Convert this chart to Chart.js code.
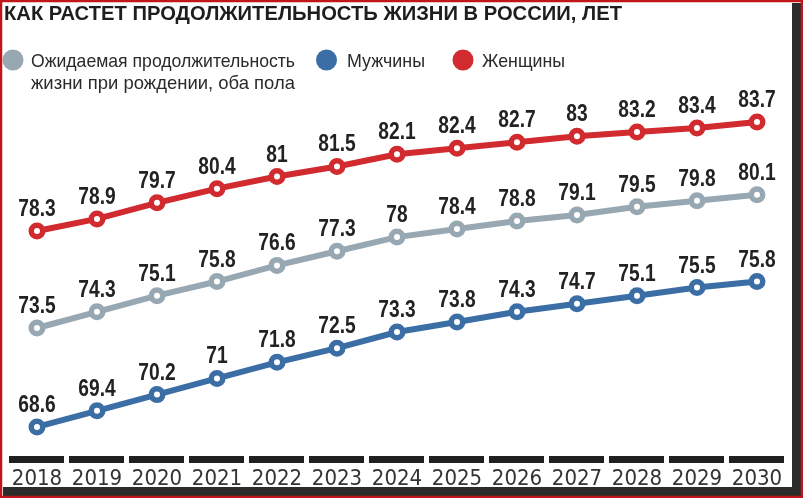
<!DOCTYPE html>
<html>
<head>
<meta charset="utf-8">
<script src="https://cdn.jsdelivr.net/npm/chart.js@4.4.1/dist/chart.umd.min.js"></script>
<style>
  html, body { margin: 0; padding: 0; background: #fff; }
  #wrap { position: relative; width: 803px; height: 498px; }
</style>
</head>
<body>
<div id="wrap"><canvas id="c" width="803" height="498"></canvas></div>
<script>
const years = ['2018','2019','2020','2021','2022','2023','2024','2025','2026','2027','2028','2029','2030'];
const bothSexes = [73.5, 74.3, 75.1, 75.8, 76.6, 77.3, 78, 78.4, 78.8, 79.1, 79.5, 79.8, 80.1];
const men = [68.6, 69.4, 70.2, 71, 71.8, 72.5, 73.3, 73.8, 74.3, 74.7, 75.1, 75.5, 75.8];
const women = [78.3, 78.9, 79.7, 80.4, 81, 81.5, 82.1, 82.4, 82.7, 83, 83.2, 83.4, 83.7];
const titleText = 'КАК РАСТЕТ ПРОДОЛЖИТЕЛЬНОСТЬ ЖИЗНИ В РОССИИ, ЛЕТ';
const legendLabels = [['Ожидаемая продолжительность', 'жизни при рождении, оба пола'], ['Мужчины'], ['Женщины']];

const GRAY = '#98a8b3', BLUE = '#3b6ea5', RED = '#d12a2f';
const COND = '"DejaVu Sans Condensed", "Liberation Sans", sans-serif';
const SANS = '"Liberation Sans", "Noto Sans", sans-serif';

function ds(label, data, color) {
  return {
    label, data,
    borderColor: color, backgroundColor: '#ffffff',
    borderWidth: 6, tension: 0,
    pointRadius: 5.75, pointBorderWidth: 5.5,
    pointBackgroundColor: '#ffffff', pointBorderColor: color,
    pointHoverRadius: 5.75
  };
}

const decor = {
  id: 'decor',
  afterDatasetsDraw(chart) {
    const ctx = chart.ctx;
    ctx.save();
    ctx.font = 'bold 24px ' + SANS;
    ctx.fillStyle = '#222';
    ctx.textAlign = 'center';
    ctx.textBaseline = 'alphabetic';
    chart.data.datasets.forEach((d, di) => {
      const meta = chart.getDatasetMeta(di);
      meta.data.forEach((pt, i) => {
        ctx.save();
        ctx.translate(pt.x, pt.y - 15);
        ctx.scale(0.8, 1);
        ctx.fillText(String(d.data[i]), 0, 0);
        ctx.restore();
      });
    });
    ctx.restore();
  },
  afterDraw(chart) {
    const ctx = chart.ctx;
    const xs = chart.scales.x;
    const area = chart.chartArea;
    ctx.save();
    ctx.fillStyle = '#1f1f1f';
    const w = xs.width / years.length;
    years.forEach((y, i) => {
      const cx = xs.getPixelForTick(i);
      ctx.fillRect(cx - w / 2 + 2, area.bottom + 1, w - 5, 7);
    });
    ctx.font = 'bold 21px ' + SANS;
    ctx.fillStyle = '#1e1e1e';
    ctx.textAlign = 'left';
    ctx.textBaseline = 'alphabetic';
    ctx.fillText(titleText, 4, 20, 618);
    const items = [
      { x: 13, tx: 31, color: GRAY, lines: legendLabels[0], w: 264 },
      { x: 326.5, tx: 347, color: BLUE, lines: legendLabels[1], w: 78 },
      { x: 463, tx: 482, color: RED, lines: legendLabels[2], w: 83 }
    ];
    ctx.font = '18.5px ' + SANS;
    items.forEach(it => {
      ctx.beginPath();
      ctx.arc(it.x, 60, 10.5, 0, Math.PI * 2);
      ctx.fillStyle = it.color;
      ctx.fill();
      ctx.fillStyle = '#2a2a2a';
      it.lines.forEach((ln, k) => ctx.fillText(ln, it.tx, 67 + k * 22, it.w));
    });
    ctx.fillStyle = '#2b2b2b';
    ctx.fillRect(792, 3, 9, 494);
    ctx.fillRect(3, 487, 798, 9);
    ctx.strokeStyle = '#c0161b';
    ctx.lineWidth = 2.5;
    ctx.strokeRect(1, 1, 801, 496);
    ctx.restore();
  }
};

new Chart(document.getElementById('c'), {
  type: 'line',
  data: {
    labels: years,
    datasets: [ds('Ожидаемая продолжительность жизни при рождении, оба пола', bothSexes, GRAY), ds('Мужчины', men, BLUE), ds('Женщины', women, RED)]
  },
  options: {
    responsive: false,
    animation: false,
    devicePixelRatio: 1,
    layout: { autoPadding: false, padding: { top: 100, left: 7, right: 16, bottom: 5 } },
    plugins: { legend: { display: false }, title: { display: false }, tooltip: { enabled: false } },
    scales: {
      x: {
        offset: true,
        grid: { display: true, drawOnChartArea: false, drawTicks: true, tickLength: 10, tickColor: 'rgba(0,0,0,0)' },
        border: { display: false },
        ticks: { color: '#333', font: { family: COND, size: 22, lineHeight: 1 }, padding: 3, maxRotation: 0, autoSkip: false }
      },
      y: { display: false, min: 67.21, max: 84.79 }
    }
  },
  plugins: [decor]
});
</script>
</body>
</html>
